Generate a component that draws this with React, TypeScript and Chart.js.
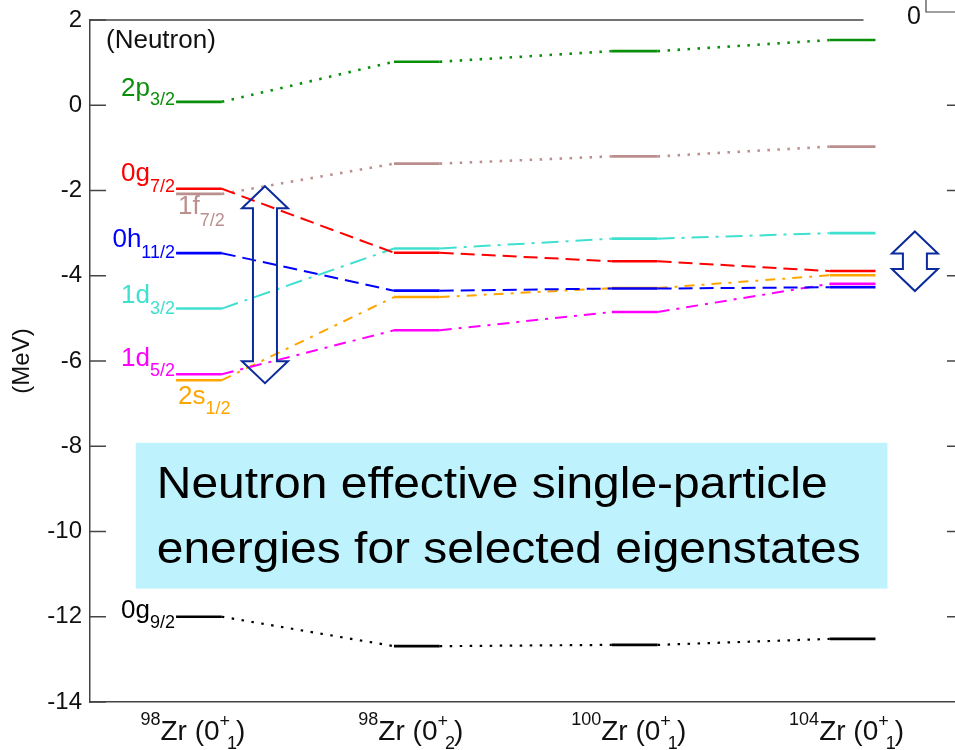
import React, { useEffect, useRef } from "react";
import { Chart, registerables } from "chart.js";

Chart.register(...registerables);

const FONT = "'Liberation Sans', Arial, Helvetica, sans-serif";

// ---- data ----
const COLUMNS = [0, 1, 2, 3];
const NUCLEUS_MASS = ["98", "98", "100", "104"];
const STATE_INDEX = ["1", "2", "1", "1"];
const Y_TICKS = [-14, -12, -10, -8, -6, -4, -2, 0, 2];

const E_2P32 = [0.08, 1.02, 1.27, 1.53];
const E_0G72 = [-1.96, -3.46, -3.66, -3.89];
const E_1F72 = [-2.08, -1.37, -1.2, -0.97];
const E_0H112 = [-3.47, -4.35, -4.3, -4.27];
const E_1D32 = [-4.77, -3.36, -3.13, -3.0];
const E_1D52 = [-6.31, -5.28, -4.85, -4.19];
const E_2S12 = [-6.45, -4.5, -4.29, -3.99];
const E_0G92 = [-12.0, -12.69, -12.66, -12.52];

const PANEL_TAG = "(Neutron)";
const BOX_TEXT = ["Neutron effective single-particle", "energies for selected eigenstates"];

// annotation geometry in data units
const X_MIN = -0.5;
const X_MAX = 3.47;
const LEVEL_HALF = 0.105;
const TOP_FRAME_END = 3.05;
const BOX = { x0: -0.29, x1: 3.16, yTop: -7.92, yBot: -11.34 };
const ARROWS = [
  { x: 0.303, yTop: -1.9, yBot: -6.52 },
  { x: 3.286, yTop: -2.96, yBot: -4.36 },
];

// ---- styles ----
type State = {
  main: string;
  sub: string;
  values: number[];
  color: string;
  dash: number[];
  width: number;
  side: "left" | "below";
  dyMain: number;
  dySub: number;
};

// index 0 is drawn on top
const STATES: State[] = [
  { main: "0h", sub: "11/2", values: E_0H112, color: "#0000ff", dash: [14, 7], width: 2, side: "left", dyMain: -6, dySub: 5 },
  { main: "0g", sub: "7/2", values: E_0G72, color: "#ff0000", dash: [14, 7], width: 2, side: "left", dyMain: -8, dySub: 3 },
  { main: "1d", sub: "3/2", values: E_1D32, color: "#40e0d0", dash: [17, 7, 3, 7], width: 2, side: "left", dyMain: -6, dySub: 5 },
  { main: "1d", sub: "5/2", values: E_1D52, color: "#ff00ff", dash: [12, 7, 3, 7], width: 2, side: "left", dyMain: -8, dySub: 2 },
  { main: "2s", sub: "1/2", values: E_2S12, color: "#ffa500", dash: [10, 7, 3, 7], width: 2, side: "below", dyMain: 24, dySub: 34 },
  { main: "2p", sub: "3/2", values: E_2P32, color: "#0a8f0a", dash: [2.5, 7.5], width: 2.6, side: "left", dyMain: -6, dySub: 3 },
  { main: "1f", sub: "7/2", values: E_1F72, color: "#bc8f8f", dash: [2.5, 7.5], width: 2.6, side: "below", dyMain: 20, dySub: 32 },
  { main: "0g", sub: "9/2", values: E_0G92, color: "#000000", dash: [2.5, 7.5], width: 2.2, side: "left", dyMain: 1, dySub: 11 },
];

function levelPoints(values: number[]) {
  const pts: { x: number; y: number }[] = [];
  values.forEach((v, i) => {
    pts.push({ x: COLUMNS[i] - LEVEL_HALF, y: v });
    pts.push({ x: COLUMNS[i] + LEVEL_HALF, y: v });
  });
  return pts;
}

type Part = { t: string; size: number; dy: number; dx?: number };

function partsWidth(ctx: CanvasRenderingContext2D, parts: Part[]) {
  let w = 0;
  for (const p of parts) {
    ctx.font = `${p.size}px ${FONT}`;
    w += ctx.measureText(p.t).width + (p.dx || 0);
  }
  return w;
}

function drawRich(
  ctx: CanvasRenderingContext2D,
  parts: Part[],
  x: number,
  y: number,
  align: "left" | "right" | "center",
  color: string
) {
  const w = partsWidth(ctx, parts);
  let cx = align === "left" ? x : align === "right" ? x - w : x - w / 2;
  ctx.fillStyle = color;
  ctx.textAlign = "left";
  ctx.textBaseline = "alphabetic";
  for (const p of parts) {
    ctx.font = `${p.size}px ${FONT}`;
    cx += p.dx || 0;
    ctx.fillText(p.t, cx, y + p.dy);
    cx += ctx.measureText(p.t).width;
  }
}

function drawDoubleArrow(ctx: CanvasRenderingContext2D, cx: number, yT: number, yB: number) {
  const shaft = 12;
  const head = 23;
  const hl = 22;
  ctx.beginPath();
  ctx.moveTo(cx, yT);
  ctx.lineTo(cx + head, yT + hl);
  ctx.lineTo(cx + shaft, yT + hl);
  ctx.lineTo(cx + shaft, yB - hl);
  ctx.lineTo(cx + head, yB - hl);
  ctx.lineTo(cx, yB);
  ctx.lineTo(cx - head, yB - hl);
  ctx.lineTo(cx - shaft, yB - hl);
  ctx.lineTo(cx - shaft, yT + hl);
  ctx.lineTo(cx - head, yT + hl);
  ctx.closePath();
  ctx.stroke();
}

const overlayPlugin = {
  id: "overlay",
  afterDraw(chart: any) {
    const { ctx, chartArea: ca, scales } = chart;
    const xs = scales.x;
    const ys = scales.y;
    ctx.save();

    // top frame line and inward ticks
    ctx.strokeStyle = "#444";
    ctx.lineWidth = 1.5;
    ctx.beginPath();
    ctx.moveTo(ca.left, ca.top);
    ctx.lineTo(xs.getPixelForValue(TOP_FRAME_END), ca.top);
    ctx.stroke();
    Y_TICKS.forEach((v) => {
      const py = ys.getPixelForValue(v);
      ctx.beginPath();
      ctx.moveTo(ca.left, py);
      ctx.lineTo(ca.left + 16, py);
      ctx.stroke();
    });

    // fragment of neighbouring panel at right edge
    Y_TICKS.filter((v) => v < 2 && v > -14).forEach((v) => {
      const py = ys.getPixelForValue(v);
      ctx.beginPath();
      ctx.moveTo(ca.right - 8, py);
      ctx.lineTo(ca.right, py);
      ctx.stroke();
    });
    ctx.lineWidth = 1.2;
    ctx.beginPath();
    ctx.moveTo(ca.right - 29, 0);
    ctx.lineTo(ca.right - 29, ca.top - 8);
    ctx.lineTo(ca.right, ca.top - 8);
    ctx.stroke();
    ctx.fillStyle = "#111";
    ctx.font = `25px ${FONT}`;
    ctx.textAlign = "right";
    ctx.textBaseline = "alphabetic";
    ctx.fillText("0", ca.right - 34, ca.top + 4);

    // panel tag
    ctx.font = `26px ${FONT}`;
    ctx.textAlign = "left";
    ctx.fillStyle = "#111";
    ctx.fillText(PANEL_TAG, ca.left + 16, ca.top + 28);

    // level labels
    STATES.forEach((s) => {
      const lx = xs.getPixelForValue(COLUMNS[0] - LEVEL_HALF);
      const ly = ys.getPixelForValue(s.values[0]);
      const parts: Part[] = [
        { t: s.main, size: 26, dy: s.dyMain },
        { t: s.sub, size: 18, dy: s.dySub },
      ];
      if (s.side === "left") drawRich(ctx, parts, lx - 1, ly, "right", s.color);
      else drawRich(ctx, parts, lx + 2, ly, "left", s.color);
    });

    // arrows
    ctx.strokeStyle = "#0b2a9c";
    ctx.lineWidth = 2;
    ctx.lineJoin = "miter";
    ARROWS.forEach((a) => {
      drawDoubleArrow(ctx, xs.getPixelForValue(a.x), ys.getPixelForValue(a.yTop), ys.getPixelForValue(a.yBot));
    });

    // caption box
    const bx0 = xs.getPixelForValue(BOX.x0);
    const bx1 = xs.getPixelForValue(BOX.x1);
    const by0 = ys.getPixelForValue(BOX.yTop);
    const by1 = ys.getPixelForValue(BOX.yBot);
    ctx.fillStyle = "#bef3fd";
    ctx.fillRect(bx0, by0, bx1 - bx0, by1 - by0);
    ctx.fillStyle = "#000";
    ctx.font = `44px ${FONT}`;
    ctx.textAlign = "left";
    BOX_TEXT.forEach((line, i) => {
      ctx.save();
      ctx.translate(bx0 + 21, by0 + 55 + i * 65);
      ctx.scale(1.09, 1);
      ctx.fillText(line, 0, 0);
      ctx.restore();
    });

    // x category labels
    COLUMNS.forEach((c, i) => {
      const cx = xs.getPixelForValue(c) - 6;
      const base = ca.bottom + 38;
      const parts: Part[] = [
        { t: NUCLEUS_MASS[i], size: 18, dy: -15 },
        { t: "Zr (0", size: 28, dy: 0 },
        { t: "+", size: 18, dy: -13 },
        { t: STATE_INDEX[i], size: 18, dy: 9, dx: -3 },
        { t: ")", size: 28, dy: 0, dx: -1 },
      ];
      drawRich(ctx, parts, cx, base, "center", "#111");
    });

    ctx.restore();
  },
};

export default function App() {
  const ref = useRef<HTMLCanvasElement>(null);
  useEffect(() => {
    const datasets = STATES.map((s) => ({
      label: s.main + s.sub,
      data: levelPoints(s.values),
      borderColor: s.color,
      backgroundColor: s.color,
      borderWidth: 2.6,
      borderDash: [],
      borderCapStyle: "butt" as const,
      pointRadius: 0,
      fill: false,
      tension: 0,
      segment: {
        borderDash: (ctx: any) => (ctx.p0DataIndex % 2 === 0 ? [] : s.dash),
        borderWidth: (ctx: any) => (ctx.p0DataIndex % 2 === 0 ? 2.6 : s.width),
      },
    }));
    const chart = new Chart(ref.current as HTMLCanvasElement, {
      type: "line",
      data: { datasets },
      options: {
        animation: false,
        responsive: false,
        devicePixelRatio: 1,
        layout: { padding: { top: 18, right: 0, bottom: 48, left: 0 } },
        plugins: { legend: { display: false }, tooltip: { enabled: false } },
        scales: {
          x: {
            type: "linear",
            min: X_MIN,
            max: X_MAX,
            ticks: { display: false },
            grid: { display: false },
            border: { display: true, color: "#444", width: 1.5 },
            afterFit: (s: any) => {
              s.height = 0;
            },
          },
          y: {
            type: "linear",
            min: -14,
            max: 2,
            afterBuildTicks: (s: any) => {
              s.ticks = Y_TICKS.map((v) => ({ value: v }));
            },
            ticks: { font: { family: FONT, size: 24, lineHeight: 1 }, color: "#111", padding: 8 },
            grid: { display: true, drawOnChartArea: false, drawTicks: false },
            border: { display: true, color: "#444", width: 1.5 },
            title: {
              display: true,
              text: "(MeV)",
              font: { family: FONT, size: 24 },
              color: "#111",
              padding: { top: 8, bottom: 0 },
            },
            afterFit: (s: any) => {
              s.width = 90;
            },
          },
        },
      } as any,
      plugins: [overlayPlugin],
    });
    return () => chart.destroy();
  }, []);
  return (
    <div style={{ position: "fixed", left: 0, top: 0, width: 955, height: 750, background: "#fff" }}>
      <canvas ref={ref} width={955} height={750} style={{ display: "block" }} />
    </div>
  );
}
